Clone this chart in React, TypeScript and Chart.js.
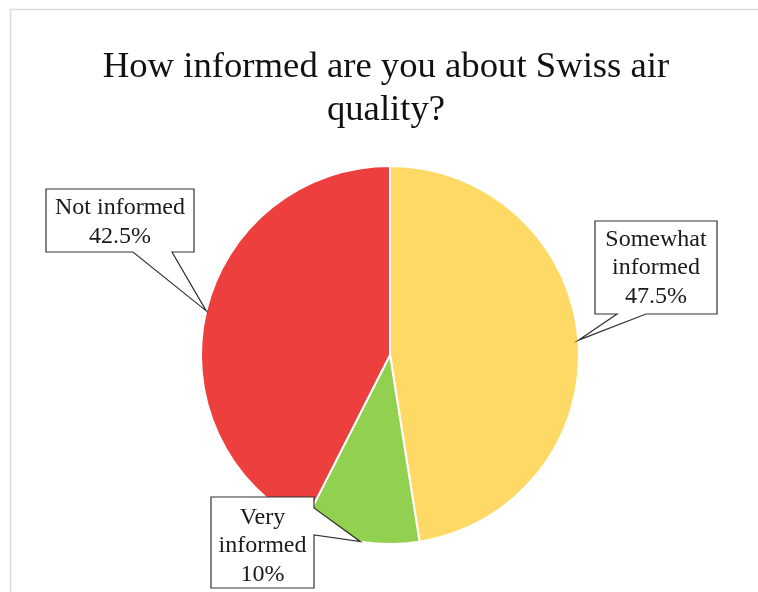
import React, { useEffect, useRef } from "react";
import { Chart, registerables } from "chart.js";

Chart.register(...registerables);

// ---- data ----
const TITLE_LINES = ["How informed are you about Swiss air", "quality?"];
const categories = ["Somewhat informed", "Very informed", "Not informed"];
const shares = [47.5, 10, 42.5];
const labelLines = [["Somewhat", "informed"], ["Very", "informed"], ["Not informed"]];

// ---- styles / layout ----
const COLORS = ["#FFD966", "#92D050", "#EE3F3F"];
const SERIF = "'Liberation Serif', 'Times New Roman', serif";
type Callout = { box: [number, number, number, number]; side: "bottom" | "right"; a: number; b: number; dy: number };
const CALLOUT_LAYOUT: Callout[] = [
  { box: [595, 221, 717, 314], side: "bottom", a: 617, b: 646, dy: 0.5 },
  { box: [211, 497, 314, 588], side: "right", a: 508, b: 535, dy: 3.5 },
  { box: [46, 189, 194, 252], side: "bottom", a: 133, b: 172, dy: 1.5 },
];

const overlayPlugin = {
  id: "overlay",
  beforeDraw(chart: any) {
    const ctx = chart.ctx as CanvasRenderingContext2D;
    ctx.save();
    ctx.fillStyle = "#ffffff";
    ctx.fillRect(0, 0, chart.width, chart.height);
    ctx.strokeStyle = "#dcdcdc";
    ctx.lineWidth = 1.5;
    ctx.beginPath();
    ctx.moveTo(10.5, chart.height);
    ctx.lineTo(10.5, 9.5);
    ctx.lineTo(chart.width, 9.5);
    ctx.stroke();
    // title
    ctx.fillStyle = "#111111";
    ctx.font = `36.7px ${SERIF}`;
    ctx.textAlign = "center";
    ctx.textBaseline = "alphabetic";
    TITLE_LINES.forEach((t, i) => ctx.fillText(t, 386, 77 + i * 43));
    ctx.restore();
  },
  afterDraw(chart: any) {
    const ctx = chart.ctx as CanvasRenderingContext2D;
    const meta = chart.getDatasetMeta(0);
    ctx.save();
    meta.data.forEach((arc: any, i: number) => {
      const p = arc.getProps(["x", "y", "startAngle", "endAngle", "outerRadius"], true);
      const mid = (p.startAngle + p.endAngle) / 2;
      const tx = p.x + Math.cos(mid) * p.outerRadius;
      const ty = p.y + Math.sin(mid) * p.outerRadius;
      const L = CALLOUT_LAYOUT[i];
      const [x1, y1, x2, y2] = L.box;
      ctx.beginPath();
      if (L.side === "bottom") {
        ctx.moveTo(x1, y1);
        ctx.lineTo(x2, y1);
        ctx.lineTo(x2, y2);
        ctx.lineTo(Math.max(L.a, L.b), y2);
        ctx.lineTo(tx, ty);
        ctx.lineTo(Math.min(L.a, L.b), y2);
        ctx.lineTo(x1, y2);
      } else {
        ctx.moveTo(x1, y1);
        ctx.lineTo(x2, y1);
        ctx.lineTo(x2, Math.min(L.a, L.b));
        ctx.lineTo(tx, ty);
        ctx.lineTo(x2, Math.max(L.a, L.b));
        ctx.lineTo(x2, y2);
        ctx.lineTo(x1, y2);
      }
      ctx.closePath();
      ctx.fillStyle = "#ffffff";
      ctx.fill();
      ctx.strokeStyle = "#333333";
      ctx.lineWidth = 1.2;
      ctx.stroke();
      const lines = [...labelLines[i], `${shares[i]}%`];
      const lh = 28.5;
      const cx = (x1 + x2) / 2;
      const cy = (y1 + y2) / 2 + L.dy;
      ctx.fillStyle = "#1a1a1a";
      ctx.font = `24px ${SERIF}`;
      ctx.textAlign = "center";
      ctx.textBaseline = "middle";
      lines.forEach((t, k) => {
        ctx.fillText(t, cx, cy + (k - (lines.length - 1) / 2) * lh);
      });
    });
    ctx.restore();
  },
};

export default function App() {
  const ref = useRef<HTMLCanvasElement | null>(null);
  useEffect(() => {
    if (!ref.current) return;
    const chart = new Chart(ref.current, {
      type: "pie",
      data: {
        labels: categories,
        datasets: [
          {
            data: shares,
            backgroundColor: COLORS,
            borderColor: "#ffffff",
            borderWidth: 2,
            hoverOffset: 0,
          },
        ],
      },
      options: {
        responsive: false,
        animation: false,
        events: [],
        layout: { padding: { left: 200, right: 178, top: 165, bottom: 47 } },
        plugins: {
          legend: { display: false },
          tooltip: { enabled: false },
          title: { display: false },
        },
      },
      plugins: [overlayPlugin],
    });
    return () => chart.destroy();
  }, []);
  return (
    <div style={{ position: "fixed", left: 0, top: 0, width: 758, height: 592, background: "#fff" }}>
      <canvas ref={ref} width={758} height={592} style={{ display: "block", width: 758, height: 592 }} />
    </div>
  );
}
